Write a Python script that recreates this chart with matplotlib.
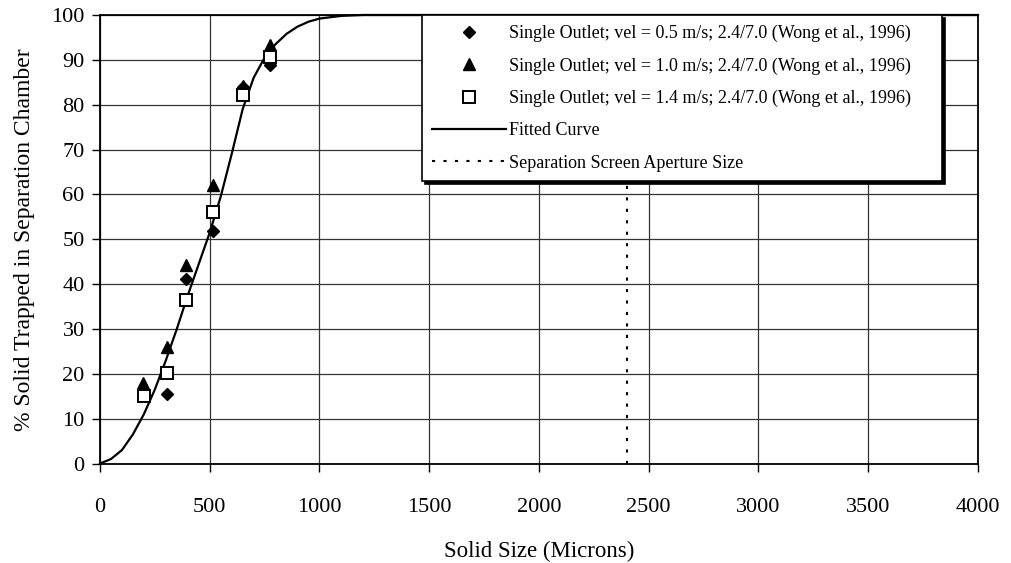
import matplotlib
matplotlib.use("Agg")
import matplotlib.pyplot as plt

plt.rcParams["font.family"] = ["Liberation Serif", "DejaVu Serif"]

# measured points (Wong et al., 1996)
x_05 = [305, 393, 515, 653, 776]
y_05 = [15.6, 41.2, 51.8, 83.9, 88.8]

x_10 = [198, 305, 393, 515, 653, 776]
y_10 = [17.9, 26.0, 44.2, 62.2, 84.2, 93.3]

x_14 = [200, 305, 393, 515, 653, 776]
y_14 = [15.0, 20.2, 36.4, 56.1, 82.1, 90.6]

# fitted curve
fit_x = [0, 50, 100, 150, 200, 250, 300, 350, 400, 450, 500, 550, 600, 650,
         700, 750, 800, 850, 900, 950, 1000, 1100, 1200, 1400, 4000]
fit_y = [0, 1, 3, 6.5, 11, 16.5, 23, 30, 37.5, 44.5, 51.5, 59.5, 69, 79,
         86, 90.5, 93.5, 95.8, 97.4, 98.5, 99.2, 99.8, 100, 100, 100]

aperture = 2400

fig = plt.figure(figsize=(10.12, 5.63), dpi=100)
ax = fig.add_axes([0.0988, 0.1767, 0.8676, 0.7967])

ax.grid(True, color="#333333", linewidth=0.9)
ax.set_axisbelow(True)

ax.plot(x_05, y_05, "D", color="black", markersize=6.5, linestyle="none",
        label="Single Outlet; vel = 0.5 m/s; 2.4/7.0 (Wong et al., 1996)", zorder=4)
ax.plot(x_10, y_10, "^", color="black", markersize=8, linestyle="none",
        label="Single Outlet; vel = 1.0 m/s; 2.4/7.0 (Wong et al., 1996)", zorder=4)
ax.plot(x_14, y_14, "s", markerfacecolor="white", markeredgecolor="black",
        markeredgewidth=1.4, markersize=8, linestyle="none",
        label="Single Outlet; vel = 1.4 m/s; 2.4/7.0 (Wong et al., 1996)", zorder=5)
ax.plot(fit_x, fit_y, color="black", linewidth=1.6, label="Fitted Curve",
        zorder=3, clip_on=False)
ax.plot([aperture, aperture], [0, 100], color="black", linestyle=(0, (1.5, 4)),
        linewidth=1.5, label="Separation Screen Aperture Size", zorder=3)

ax.set_xlim(0, 4000)
ax.set_ylim(0, 100)
ax.set_xticks(range(0, 4001, 500))
ax.set_yticks(range(0, 101, 10))
ax.tick_params(axis="both", labelsize=16, direction="out", length=6,
               width=1, color="black")
ax.tick_params(axis="x", pad=19)
ax.tick_params(axis="y", pad=5)
for s in ax.spines.values():
    s.set_linewidth(1.3)
    s.set_color("black")

ax.set_xlabel("Solid Size (Microns)", fontsize=16.5, labelpad=17)
ax.set_ylabel("% Solid Trapped in Separation Chamber", fontsize=17, labelpad=12)

leg = ax.legend(loc="upper left", bbox_to_anchor=(0.367, 0.63, 0.592, 0.37),
                mode="expand", borderaxespad=0, fontsize=13, handlelength=4.1,
                handletextpad=0.15, labelspacing=0.84, borderpad=0.55,
                fancybox=False, framealpha=1, edgecolor="black",
                shadow={"color": "black", "alpha": 1})
leg.get_frame().set_linewidth(1.2)
leg.set_zorder(10)

fig.savefig("out.png", dpi=100)
